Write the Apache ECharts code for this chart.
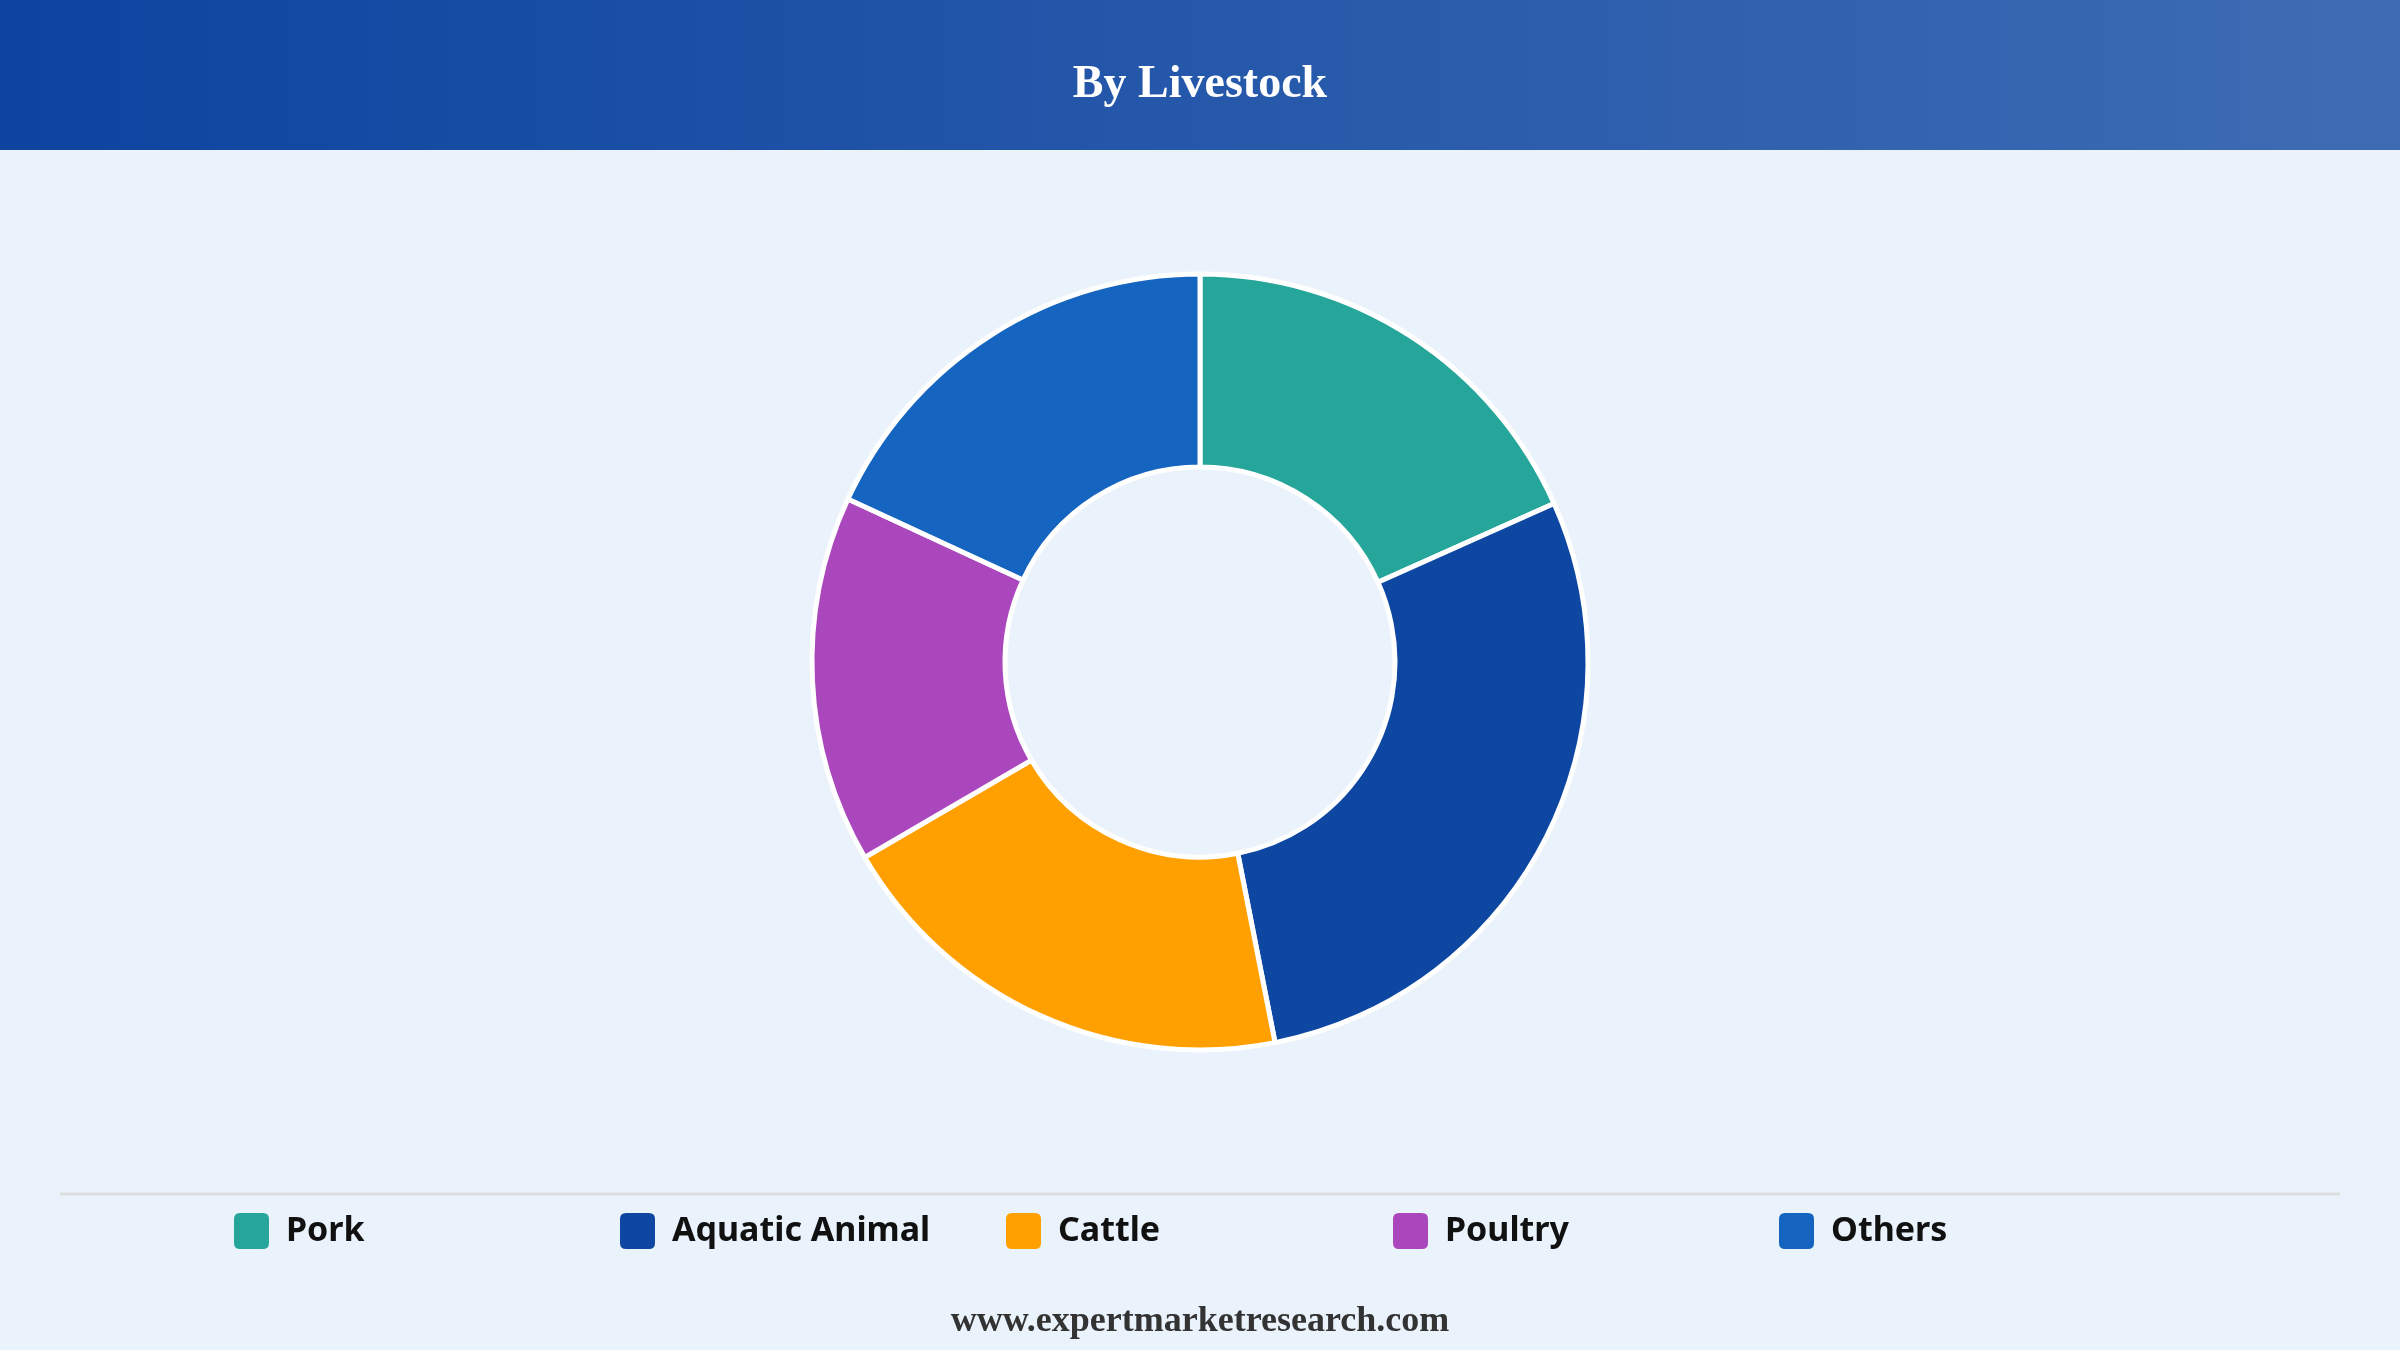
<!DOCTYPE html>
<html>
<head>
<meta charset="utf-8">
<script src="https://cdn.jsdelivr.net/npm/echarts@6/dist/echarts.min.js"></script>
<style>
html,body{margin:0;padding:0;background:#EAF2FB;}
#c{width:2400px;height:1350px;}
</style>
</head>
<body>
<div id="c"></div>
<script>
const categories = ['Pork', 'Aquatic Animal', 'Cattle', 'Poultry', 'Others'];
const values = [18.3, 28.6, 19.7, 15.3, 18.1];
const colors = ['#26A69A', '#0D47A1', '#FFA000', '#AB47BC', '#1565C0'];
const titleText = 'By Livestock';
const footerText = 'www.expertmarketresearch.com';

const legendLefts = [234, 620, 1006, 1393, 1779];

const chart = echarts.init(document.getElementById('c'));
const legends = categories.map((name, i) => ({
  data: [name],
  left: legendLefts[i],
  top: 1213,
  padding: 0,
  itemWidth: 35,
  itemHeight: 36,
  icon: 'path://M6,0 H29 Q35,0 35,6 V30 Q35,36 29,36 H6 Q0,36 0,30 V6 Q0,0 6,0 Z',
  itemStyle: { borderWidth: 0 },
  selectedMode: false,
  textStyle: {
    fontFamily: 'Noto Sans',
    fontWeight: 'bold',
    fontSize: 34,
    color: '#111111',
    padding: [0, 0, 0, 12]
  }
}));

chart.setOption({
  backgroundColor: '#EAF2FB',
  animation: false,
  color: colors,
  graphic: [
    {
      type: 'rect',
      shape: { x: 0, y: 0, width: 2400, height: 150 },
      style: {
        fill: new echarts.graphic.LinearGradient(0, 0, 1, 0, [
          { offset: 0, color: '#0D44A0' },
          { offset: 1, color: '#3E6CB4' }
        ])
      },
      z: -1
    },
    {
      type: 'text',
      x: 1200, y: 85,
      style: {
        text: titleText,
        fill: '#ffffff',
        font: 'bold 46px "Liberation Serif", "DejaVu Serif", serif',
        textAlign: 'center',
        textVerticalAlign: 'middle'
      }
    },
    {
      type: 'line',
      shape: { x1: 60, y1: 1194, x2: 2340, y2: 1194 },
      style: { stroke: '#DCDDDF', lineWidth: 3 }
    },
    {
      type: 'text',
      x: 1200, y: 1322,
      style: {
        text: footerText,
        fill: '#333333',
        font: 'bold 36px "Liberation Serif", "DejaVu Serif", serif',
        textAlign: 'center',
        textVerticalAlign: 'middle'
      }
    }
  ],
  legend: legends,
  series: [{
    type: 'pie',
    center: [1200, 662],
    radius: [195, 388],
    startAngle: 90,
    clockwise: true,
    label: { show: false },
    labelLine: { show: false },
    emphasis: { disabled: true },
    itemStyle: { borderColor: '#ffffff', borderWidth: 5 },
    data: categories.map((name, i) => ({ name: name, value: values[i] }))
  }]
});
</script>
</body>
</html>
